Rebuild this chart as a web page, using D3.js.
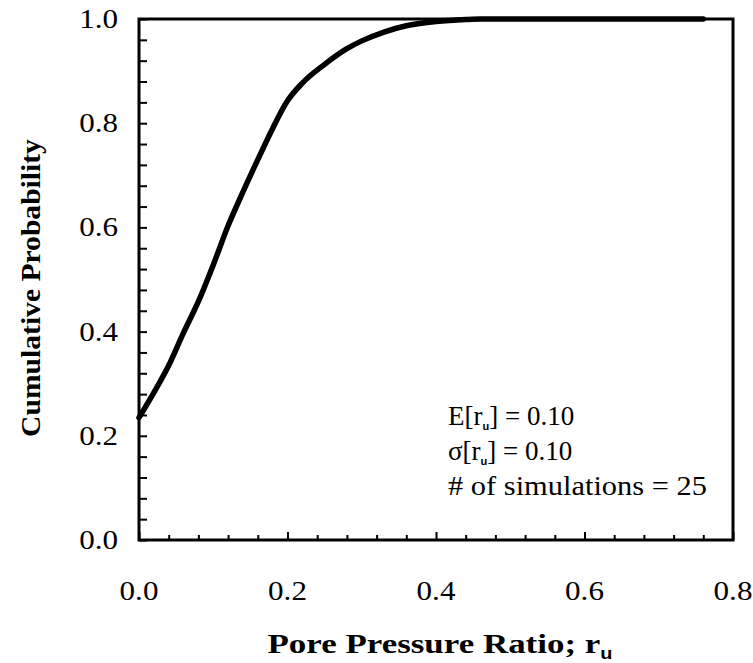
<!DOCTYPE html>
<html>
<head>
<meta charset="utf-8">
<script src="https://cdn.jsdelivr.net/npm/d3@7/dist/d3.min.js"></script>
<style>
  html, body { margin: 0; padding: 0; background: #fff; }
  svg { display: block; }
</style>
</head>
<body>
<svg id="chart" width="753" height="663"></svg>
<script>
// ---- data ----
const xTickValues = [0, 0.2, 0.4, 0.6, 0.8];
const xTickLabels = ["0.0", "0.2", "0.4", "0.6", "0.8"];
const yTickValues = [0, 0.2, 0.4, 0.6, 0.8, 1.0];
const yTickLabels = ["0.0", "0.2", "0.4", "0.6", "0.8", "1.0"];
const ruValues  = [0.00, 0.02, 0.04, 0.06, 0.08, 0.10, 0.12, 0.14, 0.16, 0.18, 0.20, 0.22, 0.25, 0.28, 0.30, 0.33, 0.36, 0.40, 0.44, 0.46, 0.76];
const cumProb   = [0.235, 0.283, 0.335, 0.398, 0.458, 0.528, 0.603, 0.668, 0.73, 0.79, 0.843, 0.877, 0.913, 0.943, 0.958, 0.975, 0.987, 0.995, 0.999, 1.0, 1.0];
const annotation = [
  { pre: "E[r", sub: "u", post: "] = 0.10" },
  { pre: "\u03c3[r", sub: "u", post: "] = 0.10" },
  { pre: "#  of simulations = 25", sub: "", post: "" }
];

// ---- layout ----
const svg = d3.select("#chart");
const mLeft = 139, mRight = 733, mTop = 19, mBottom = 540;
const x = d3.scaleLinear().domain([0, 0.8]).range([mLeft, mRight]);
const y = d3.scaleLinear().domain([0, 1]).range([mBottom, mTop]);
const minorX = d3.range(0, 0.8001, 0.04);
const minorY = d3.range(0, 1.0001, 0.04);

// ticks (inward)
const xAxis = d3.axisTop(x).tickValues(minorX).tickSize(5).tickFormat("");
const gx = svg.append("g").attr("transform", `translate(0,${mBottom})`).call(xAxis);
gx.select(".domain").remove();
gx.selectAll(".tick line").attr("stroke", "#000").attr("stroke-width", 2)
  .attr("y2", (d, i) => (i % 5 === 0 ? -8 : -5));

const yAxis = d3.axisRight(y).tickValues(minorY).tickSize(8).tickFormat("");
const gy = svg.append("g").attr("transform", `translate(${mLeft},0)`).call(yAxis);
gy.select(".domain").remove();
gy.selectAll(".tick line").attr("stroke", "#000").attr("stroke-width", 2);

// frame
svg.append("rect")
  .attr("x", mLeft).attr("y", mTop)
  .attr("width", mRight - mLeft).attr("height", mBottom - mTop)
  .attr("fill", "none").attr("stroke", "#000").attr("stroke-width", 3);

const font = "'Liberation Serif', 'Times New Roman', serif";
const sx = 1.15;

// tick labels
svg.append("g").selectAll("text").data(xTickValues).join("text")
  .attr("transform", d => `translate(${x(d)},600) scale(${sx},1)`)
  .attr("text-anchor", "middle")
  .attr("font-family", font).attr("font-size", 27)
  .text((d, i) => xTickLabels[i]);

svg.append("g").selectAll("text").data(yTickValues).join("text")
  .attr("transform", d => `translate(118,${y(d) + 9}) scale(${sx},1)`)
  .attr("text-anchor", "end")
  .attr("font-family", font).attr("font-size", 27)
  .text((d, i) => yTickLabels[i]);

// helper: stretch along text direction to a target length
function fitLength(sel, base, target) {
  const w = sel.node().getComputedTextLength();
  sel.attr("transform", `${base} scale(${target / w},1)`);
}

// axis titles
const xt = svg.append("text")
  .attr("text-anchor", "middle")
  .attr("font-family", font).attr("font-size", 28).attr("font-weight", "bold");
xt.append("tspan").text("Pore Pressure Ratio; r");
xt.append("tspan").attr("font-family", "'Liberation Sans', Arial, sans-serif")
  .attr("font-size", 16).attr("dy", 6).text("u");
fitLength(xt, "translate(440,653)", 345);

const yt = svg.append("text")
  .attr("text-anchor", "middle")
  .attr("font-family", font).attr("font-size", 28).attr("font-weight", "bold")
  .text("Cumulative Probability");
fitLength(yt, "translate(40,288) rotate(-90)", 298);

// curve
const pts = ruValues.map((v, i) => [v, cumProb[i]]);
svg.append("path")
  .datum(pts)
  .attr("fill", "none").attr("stroke", "#000").attr("stroke-width", 5.5)
  .attr("stroke-linejoin", "round").attr("stroke-linecap", "round")
  .attr("d", d3.line().x(d => x(d[0])).y(d => y(d[1])).curve(d3.curveMonotoneX));

// annotation
annotation.forEach((a, i) => {
  const t = svg.append("text")
    .attr("font-family", font).attr("font-size", 27);
  t.append("tspan").text(a.pre);
  if (a.sub) {
    t.append("tspan").attr("font-family", "'Liberation Sans', Arial, sans-serif")
      .attr("font-weight", "bold").attr("font-size", 11).attr("dy", 5).text(a.sub);
    t.append("tspan").attr("dy", -5).text(a.post);
  }
  t.attr("transform", `translate(448,${425 + i * 35})`);
  if (i === 2) fitLength(t, `translate(448,${425 + i * 35})`, 259);
});
</script>
</body>
</html>
